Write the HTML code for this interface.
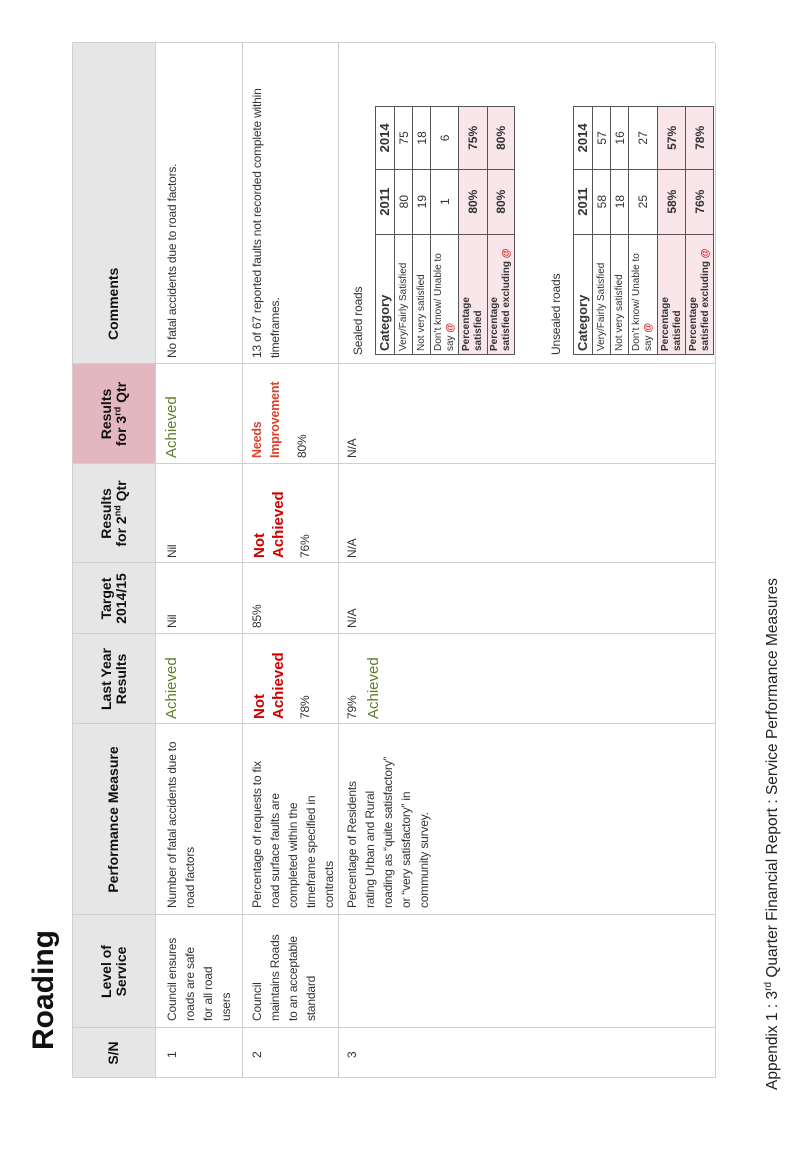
<!DOCTYPE html>
<html><head><meta charset="utf-8"><style>
html,body{margin:0;padding:0;background:#fff;}
body{width:796px;height:1156px;overflow:hidden;position:relative;}
#pg{position:absolute;left:0;top:0;width:1156px;height:796px;transform-origin:0 0;transform:translateY(1156px) rotate(-90deg);font-family:"Liberation Sans",sans-serif;color:#333;}
.a{position:absolute;}
.h{background:#e6e6e6;font-weight:bold;font-size:14px;color:#111;text-align:center;display:flex;align-items:center;justify-content:center;line-height:15px;}
.vl{position:absolute;width:1px;background:#cfcfcf;}
.hl{position:absolute;height:1px;background:#cfcfcf;}
.t{position:absolute;font-size:12px;line-height:18px;color:#333;letter-spacing:-0.2px;}
.g{color:#5f7f2c;font-size:15px;letter-spacing:0;}
.r{color:#d10000;font-weight:bold;font-size:15px;line-height:19px;letter-spacing:0;}
table.in{position:absolute;border-collapse:collapse;font-size:10px;color:#333;}
table.in td{border:1px solid #555;padding:0 3px;line-height:12px;}
table.in td.n{text-align:center;font-size:12px;}
table.in tr.p td{background:#f8e6ea;font-weight:bold;}
.at{color:#e02020;font-weight:bold;}
sup{font-size:9px;line-height:0;}
</style></head><body><div id="pg">
<div class="a" style="left:106px;top:27px;font-size:30px;font-weight:bold;color:#111;">Roading</div>

<!-- header -->
<div class="a h" style="left:78px;top:72px;width:50px;height:83px;"><div>S/N</div></div>
<div class="a h" style="left:128px;top:72px;width:113px;height:83px;"><div>Level of<br>Service</div></div>
<div class="a h" style="left:241px;top:72px;width:191px;height:83px;"><div>Performance Measure</div></div>
<div class="a h" style="left:432px;top:72px;width:90px;height:83px;"><div>Last Year<br>Results</div></div>
<div class="a h" style="left:522px;top:72px;width:71px;height:83px;"><div>Target<br>2014/15</div></div>
<div class="a h" style="left:593px;top:72px;width:99px;height:83px;"><div>Results<br>for 2<sup>nd</sup> Qtr</div></div>
<div class="a h" style="left:692px;top:72px;width:100px;height:83px;background:#e2b7c0;"><div>Results<br>for 3<sup>rd</sup> Qtr</div></div>
<div class="a h" style="left:792px;top:72px;width:321px;height:83px;justify-content:flex-start;"><div style="margin-left:24px">Comments</div></div>

<!-- grid -->
<div class="vl" style="left:78px;top:72px;height:643px"></div>
<div class="vl" style="left:128px;top:72px;height:643px"></div>
<div class="vl" style="left:241px;top:72px;height:643px"></div>
<div class="vl" style="left:432px;top:72px;height:643px"></div>
<div class="vl" style="left:522px;top:72px;height:643px"></div>
<div class="vl" style="left:593px;top:72px;height:643px"></div>
<div class="vl" style="left:692px;top:72px;height:643px"></div>
<div class="vl" style="left:792px;top:72px;height:643px"></div>
<div class="vl" style="left:1113px;top:72px;height:643px"></div>
<div class="hl" style="left:78px;top:72px;width:1035px"></div>
<div class="hl" style="left:78px;top:155px;width:1035px"></div>
<div class="hl" style="left:78px;top:242px;width:1035px"></div>
<div class="hl" style="left:78px;top:338px;width:1035px"></div>
<div class="hl" style="left:78px;top:715px;width:1035px"></div>

<!-- row 1 -->
<div class="t" style="left:98px;top:163px;">1</div>
<div class="t" style="left:135px;top:163px;width:100px;">Council ensures<br>roads are safe<br>for all road<br>users</div>
<div class="t" style="left:248px;top:163px;width:182px;">Number of fatal accidents due to road factors</div>
<div class="t g" style="left:437px;top:163px;">Achieved</div>
<div class="t" style="left:528px;top:163px;">Nil</div>
<div class="t" style="left:598px;top:163px;">Nil</div>
<div class="t g" style="left:698px;top:163px;">Achieved</div>
<div class="t" style="left:798px;top:163px;">No fatal accidents due to road factors.</div>

<!-- row 2 -->
<div class="t" style="left:98px;top:248px;">2</div>
<div class="t" style="left:135px;top:248px;width:104px;">Council<br>maintains Roads<br>to an acceptable<br>standard</div>
<div class="t" style="left:248px;top:248px;width:160px;">Percentage of requests to fix road surface faults are completed within the timeframe specified in contracts</div>
<div class="t r" style="left:437px;top:250px;">Not<br>Achieved</div>
<div class="t" style="left:437px;top:296px;">78%</div>
<div class="t" style="left:528px;top:248px;">85%</div>
<div class="t r" style="left:598px;top:250px;">Not<br>Achieved</div>
<div class="t" style="left:598px;top:296px;">76%</div>
<div class="t" style="left:698px;top:248px;color:#e0402a;font-weight:bold;font-size:12.5px;">Needs<br>Improvement</div>
<div class="t" style="left:698px;top:293px;">80%</div>
<div class="t" style="left:798px;top:248px;width:300px;">13 of 67 reported faults not recorded complete within timeframes.</div>

<!-- row 3 -->
<div class="t" style="left:98px;top:343px;">3</div>
<div class="t" style="left:248px;top:343px;width:182px;">Percentage of Residents<br>rating Urban and Rural<br>roading as “quite satisfactory”<br>or “very satisfactory” in<br>community survey.</div>
<div class="t" style="left:437px;top:343px;">79%</div>
<div class="t g" style="left:437px;top:365px;">Achieved</div>
<div class="t" style="left:528px;top:343px;">N/A</div>
<div class="t" style="left:598px;top:343px;">N/A</div>
<div class="t" style="left:698px;top:343px;">N/A</div>
<div class="t" style="left:801px;top:349px;">Sealed roads</div>
<div class="t" style="left:801px;top:547px;">Unsealed roads</div>

<table class="in" style="left:801px;top:375px;width:249px;height:139px;">
<colgroup><col style="width:121px"><col style="width:65px"><col style="width:63px"></colgroup>
<tr style="height:19px"><td style="font-weight:bold;font-size:13px">Category</td><td class="n" style="font-weight:bold;font-size:13px">2011</td><td class="n" style="font-weight:bold;font-size:13px">2014</td></tr>
<tr style="height:18px"><td>Very/Fairly Satisfied</td><td class="n">80</td><td class="n">75</td></tr>
<tr style="height:18px"><td>Not very satisfied</td><td class="n">19</td><td class="n">18</td></tr>
<tr style="height:28px"><td>Don’t know/ Unable to say <span class="at">@</span></td><td class="n">1</td><td class="n">6</td></tr>
<tr class="p" style="height:29px"><td>Percentage<br>satisfied</td><td class="n">80%</td><td class="n">75%</td></tr>
<tr class="p" style="height:27px"><td>Percentage<br>satisfied excluding <span class="at">@</span></td><td class="n">80%</td><td class="n">80%</td></tr>
</table>

<table class="in" style="left:801px;top:573px;width:249px;height:140px;">
<colgroup><col style="width:121px"><col style="width:65px"><col style="width:63px"></colgroup>
<tr style="height:19px"><td style="font-weight:bold;font-size:13px">Category</td><td class="n" style="font-weight:bold;font-size:13px">2011</td><td class="n" style="font-weight:bold;font-size:13px">2014</td></tr>
<tr style="height:18px"><td>Very/Fairly Satisfied</td><td class="n">58</td><td class="n">57</td></tr>
<tr style="height:18px"><td>Not very satisfied</td><td class="n">18</td><td class="n">16</td></tr>
<tr style="height:29px"><td>Don’t know/ Unable to say <span class="at">@</span></td><td class="n">25</td><td class="n">27</td></tr>
<tr class="p" style="height:28px"><td>Percentage<br>satisfied</td><td class="n">58%</td><td class="n">57%</td></tr>
<tr class="p" style="height:28px"><td>Percentage<br>satisfied excluding <span class="at">@</span></td><td class="n">76%</td><td class="n">78%</td></tr>
</table>

<div class="a" style="left:66px;top:764px;font-size:15.5px;color:#222;white-space:nowrap;">Appendix 1 : 3<sup style="font-size:10px">rd</sup> Quarter Financial Report : Service Performance Measures</div>
</div></body></html>
